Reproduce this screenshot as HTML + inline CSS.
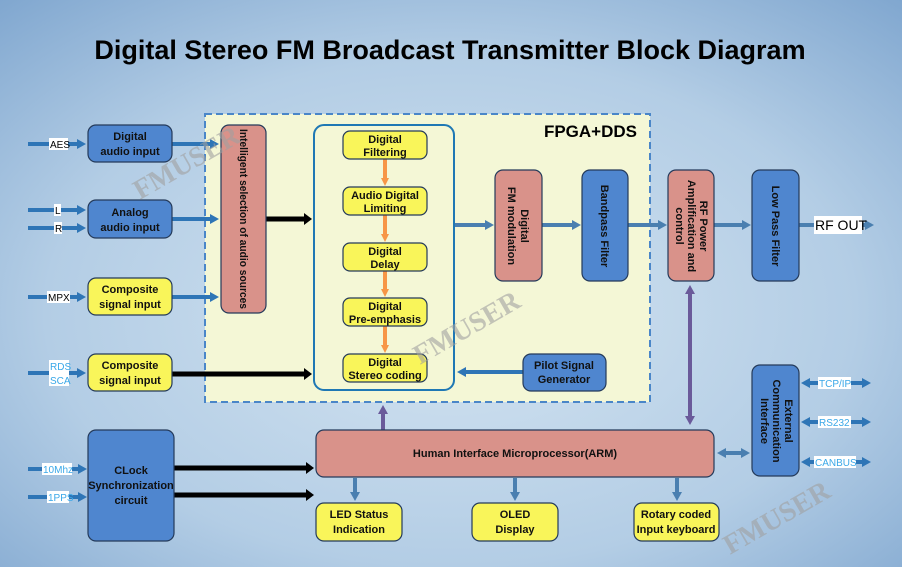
<!DOCTYPE html>
<html><head><meta charset="utf-8"><style>
html,body{margin:0;padding:0;width:902px;height:567px;overflow:hidden}
svg{display:block;font-family:"Liberation Sans",sans-serif}
.b{font-weight:bold;font-size:11px;fill:#111}
</style></head><body>
<svg width="902" height="567" viewBox="0 0 902 567">
<defs>
<radialGradient id="bg" cx="0.5" cy="0.55" r="0.75">
<stop offset="0" stop-color="#d4e4f1"/><stop offset="0.6" stop-color="#b3cde5"/><stop offset="1" stop-color="#7fa6cf"/>
</radialGradient>
<marker id="ab" markerUnits="userSpaceOnUse" markerWidth="9" markerHeight="10" refX="5" refY="5" orient="auto"><path d="M0,0 L9,5 L0,10 z" fill="#2e75b6"/></marker>
<marker id="ab2" markerUnits="userSpaceOnUse" markerWidth="9" markerHeight="10" refX="5" refY="5" orient="auto-start-reverse"><path d="M0,0 L9,5 L0,10 z" fill="#2e75b6"/></marker>
<marker id="ak" markerUnits="userSpaceOnUse" markerWidth="8" markerHeight="12" refX="4" refY="6" orient="auto"><path d="M0,0 L8,6 L0,12 z" fill="#000"/></marker>
<marker id="ao" markerUnits="userSpaceOnUse" markerWidth="10" markerHeight="8" refX="5" refY="4" orient="auto"><path d="M0,0 L8,4 L0,8 z" transform="translate(1,0)" fill="#f79646"/></marker>
<marker id="ap" markerUnits="userSpaceOnUse" markerWidth="9" markerHeight="10" refX="5" refY="5" orient="auto-start-reverse"><path d="M0,0 L9,5 L0,10 z" fill="#6a5a9a"/></marker>
<marker id="as" markerUnits="userSpaceOnUse" markerWidth="9" markerHeight="10" refX="5" refY="5" orient="auto-start-reverse"><path d="M0,0 L9,5 L0,10 z" fill="#4a7fb0"/></marker>
</defs>
<rect width="902" height="567" fill="url(#bg)"/>
<text x="450" y="59" text-anchor="middle" font-size="27" font-weight="bold" fill="#000">Digital Stereo FM Broadcast Transmitter Block Diagram</text>
<rect x="205" y="114" width="445" height="288" fill="#f4f7d6" stroke="#4a86c8" stroke-width="2" stroke-dasharray="7,4"/>
<text x="637" y="137" text-anchor="end" font-size="17" font-weight="bold">FPGA+DDS</text>
<rect x="314" y="125" width="140" height="265" rx="10" fill="#f4f7d6" stroke="#1f78b4" stroke-width="2"/>

<g stroke="#2e75b6" stroke-width="4" fill="none">
<line x1="28" y1="144" x2="82" y2="144" marker-end="url(#ab)"/>
<line x1="28" y1="210" x2="82" y2="210" marker-end="url(#ab)"/>
<line x1="28" y1="228" x2="82" y2="228" marker-end="url(#ab)"/>
<line x1="28" y1="297" x2="82" y2="297" marker-end="url(#ab)"/>
<line x1="28" y1="373" x2="82" y2="373" marker-end="url(#ab)"/>
<line x1="172" y1="144" x2="215" y2="144" marker-end="url(#ab)"/>
<line x1="172" y1="219" x2="215" y2="219" marker-end="url(#ab)"/>
<line x1="172" y1="297" x2="215" y2="297" marker-end="url(#ab)"/>
<line x1="28" y1="469" x2="83" y2="469" marker-end="url(#ab)"/>
<line x1="28" y1="497" x2="83" y2="497" marker-end="url(#ab)"/>
<line x1="805" y1="383" x2="867" y2="383" marker-start="url(#ab2)" marker-end="url(#ab2)"/>
<line x1="805" y1="422" x2="867" y2="422" marker-start="url(#ab2)" marker-end="url(#ab2)"/>
<line x1="805" y1="462" x2="867" y2="462" marker-start="url(#ab2)" marker-end="url(#ab2)"/>
<line x1="606" y1="372" x2="461" y2="372" marker-end="url(#ab)"/>
</g>
<g stroke="#4a7fb0" stroke-width="4" fill="none">
<line x1="455" y1="225" x2="490" y2="225" marker-end="url(#as)"/>
<line x1="542" y1="225" x2="577" y2="225" marker-end="url(#as)"/>
<line x1="628" y1="225" x2="663" y2="225" marker-end="url(#as)"/>
<line x1="714" y1="225" x2="747" y2="225" marker-end="url(#as)"/>
<line x1="799" y1="225" x2="870" y2="225" marker-end="url(#as)"/>
<line x1="721" y1="453" x2="746" y2="453" marker-start="url(#as)" marker-end="url(#as)"/>
<line x1="355" y1="478" x2="355" y2="497" marker-end="url(#as)"/>
<line x1="515" y1="478" x2="515" y2="497" marker-end="url(#as)"/>
<line x1="677" y1="478" x2="677" y2="497" marker-end="url(#as)"/>
</g>
<g stroke="#000" stroke-width="5">
<line x1="266" y1="219" x2="308" y2="219" marker-end="url(#ak)"/>
<line x1="172" y1="374" x2="308" y2="374" marker-end="url(#ak)"/>
<line x1="174" y1="468" x2="310" y2="468" marker-end="url(#ak)"/>
<line x1="174" y1="495" x2="310" y2="495" marker-end="url(#ak)"/>
</g>
<g stroke="#f79646" stroke-width="4">
<line x1="385" y1="159" x2="385" y2="182" marker-end="url(#ao)"/>
<line x1="385" y1="215" x2="385" y2="238" marker-end="url(#ao)"/>
<line x1="385" y1="271" x2="385" y2="293" marker-end="url(#ao)"/>
<line x1="385" y1="326" x2="385" y2="349" marker-end="url(#ao)"/>
</g>
<g stroke="#6a5a9a" stroke-width="4">
<line x1="690" y1="289" x2="690" y2="421" marker-start="url(#ap)" marker-end="url(#ap)"/>
<line x1="383" y1="430" x2="383" y2="409" marker-end="url(#ap)"/>
</g>

<g stroke="#243a5a" stroke-width="1.2">
<rect x="88" y="125" width="84" height="37" rx="8" fill="#4f86cf"/>
<rect x="88" y="200" width="84" height="38" rx="8" fill="#4f86cf"/>
<rect x="88" y="278" width="84" height="37" rx="8" fill="#f9f55a"/>
<rect x="88" y="354" width="84" height="37" rx="8" fill="#f9f55a"/>
<rect x="221" y="125" width="45" height="188" rx="8" fill="#d9928a"/>
<rect x="343" y="131" width="84" height="28" rx="7" fill="#f9f55a"/>
<rect x="343" y="187" width="84" height="28" rx="7" fill="#f9f55a"/>
<rect x="343" y="243" width="84" height="28" rx="7" fill="#f9f55a"/>
<rect x="343" y="298" width="84" height="28" rx="7" fill="#f9f55a"/>
<rect x="343" y="354" width="84" height="28" rx="7" fill="#f9f55a"/>
<rect x="495" y="170" width="47" height="111" rx="8" fill="#d9928a"/>
<rect x="582" y="170" width="46" height="111" rx="8" fill="#4f86cf"/>
<rect x="668" y="170" width="46" height="111" rx="8" fill="#d9928a"/>
<rect x="752" y="170" width="47" height="111" rx="8" fill="#4f86cf"/>
<rect x="523" y="354" width="83" height="37" rx="8" fill="#4f86cf"/>
<rect x="752" y="365" width="47" height="111" rx="8" fill="#4f86cf"/>
<rect x="316" y="430" width="398" height="47" rx="8" fill="#d9928a"/>
<rect x="88" y="430" width="86" height="111" rx="8" fill="#4f86cf"/>
<rect x="316" y="503" width="86" height="38" rx="8" fill="#f9f55a"/>
<rect x="472" y="503" width="86" height="38" rx="8" fill="#f9f55a"/>
<rect x="634" y="503" width="85" height="38" rx="8" fill="#f9f55a"/>
</g>

<g class="b" text-anchor="middle">
<text x="130" y="140" class="b">Digital</text><text x="130" y="155" class="b">audio input</text>
<text x="130" y="216" class="b">Analog</text><text x="130" y="231" class="b">audio input</text>
<text x="130" y="293" class="b">Composite</text><text x="130" y="308" class="b">signal input</text>
<text x="130" y="369" class="b">Composite</text><text x="130" y="384" class="b">signal input</text>
<text x="385" y="143" class="b" font-size="10.5">Digital</text><text x="385" y="156" class="b" font-size="10.5">Filtering</text>
<text x="385" y="199" class="b" font-size="10.5">Audio Digital</text><text x="385" y="212" class="b" font-size="10.5">Limiting</text>
<text x="385" y="255" class="b" font-size="10.5">Digital</text><text x="385" y="268" class="b" font-size="10.5">Delay</text>
<text x="385" y="310" class="b" font-size="10.5">Digital</text><text x="385" y="323" class="b" font-size="10.5">Pre-emphasis</text>
<text x="385" y="366" class="b" font-size="10.5">Digital</text><text x="385" y="379" class="b" font-size="10.5">Stereo coding</text>
<text x="564" y="369" class="b">Pilot Signal</text><text x="564" y="383" class="b">Generator</text>
<text x="515" y="457" class="b" font-size="10">Human Interface Microprocessor(ARM)</text>
<text x="131" y="474" class="b">CLock</text><text x="131" y="489" class="b">Synchronization</text><text x="131" y="504" class="b">circuit</text>
<text x="359" y="518" class="b">LED Status</text><text x="359" y="533" class="b">Indication</text>
<text x="515" y="518" class="b">OLED</text><text x="515" y="533" class="b">Display</text>
<text x="676" y="518" class="b">Rotary coded</text><text x="676" y="533" class="b">Input keyboard</text>
</g>
<g class="b" text-anchor="middle">
<text transform="translate(240,219) rotate(90)" class="b" font-size="10" textLength="180" lengthAdjust="spacingAndGlyphs">Intelligent selection of audio sources</text>
<text transform="translate(521,226) rotate(90)" class="b" font-size="10">Digital</text>
<text transform="translate(508,226) rotate(90)" class="b" font-size="10">FM modulation</text>
<text transform="translate(601,226) rotate(90)" class="b" font-size="10">Bandpass Filter</text>
<text transform="translate(700,226) rotate(90)" class="b" font-size="10">RF Power</text>
<text transform="translate(688,226) rotate(90)" class="b" font-size="10">Amplification and</text>
<text transform="translate(676,226) rotate(90)" class="b" font-size="10">control</text>
<text transform="translate(772,226) rotate(90)" class="b" font-size="10">Low Pass Filter</text>
<text transform="translate(785,421) rotate(90)" class="b" font-size="10">External</text>
<text transform="translate(773,421) rotate(90)" class="b" font-size="10">Communication</text>
<text transform="translate(761,421) rotate(90)" class="b" font-size="10">Interface</text>
</g>

<g font-size="10">
<rect x="49" y="138" width="19" height="12" fill="#fff"/><text x="50" y="148">AES</text>
<rect x="54" y="204" width="7" height="12" fill="#fff"/><text x="55" y="214">L</text>
<rect x="54" y="222" width="8" height="12" fill="#fff"/><text x="55" y="232">R</text>
<rect x="47" y="291" width="23" height="12" fill="#fff"/><text x="48" y="301">MPX</text>
<rect x="49" y="360" width="20" height="26" fill="#fff"/><text x="50" y="370" fill="#3aa8e8">RDS</text><text x="50" y="384" fill="#3aa8e8">SCA</text>
<rect x="42" y="463" width="30" height="12" fill="#fff"/><text x="43" y="473" fill="#3aa8e8">10Mhz</text>
<rect x="47" y="491" width="22" height="12" fill="#fff"/><text x="48" y="501" fill="#3aa8e8">1PPS</text>
<rect x="818" y="377" width="33" height="12" fill="#fff"/><text x="819" y="387" fill="#3aa8e8">TCP/IP</text>
<rect x="818" y="416" width="33" height="12" fill="#fff"/><text x="819" y="426" fill="#3aa8e8">RS232</text>
<rect x="814" y="456" width="42" height="12" fill="#fff"/><text x="815" y="466" fill="#3aa8e8">CANBUS</text>
<rect x="814" y="216" width="48" height="18" fill="#fff"/><text x="815" y="230" font-size="14">RF OUT</text>
</g>
<g font-family="Liberation Serif" font-size="28" font-weight="bold" fill="#a0a0a0" fill-opacity="0.6">
<text transform="translate(140,200) rotate(-30)">FMUSER</text>
<text transform="translate(420,365) rotate(-30)">FMUSER</text>
<text transform="translate(730,555) rotate(-30)">FMUSER</text>
</g>
</svg>
</body></html>
